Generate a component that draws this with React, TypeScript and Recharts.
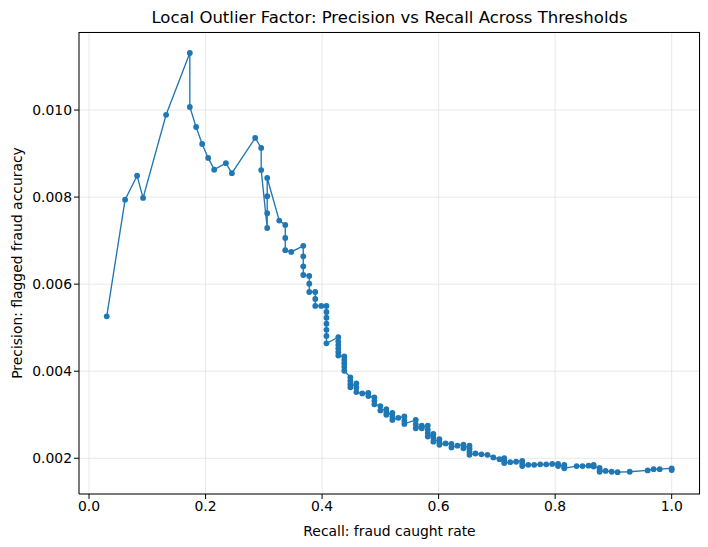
import { CartesianGrid, Line, LineChart, XAxis, YAxis } from 'recharts';

// recall / precision pairs, left to right
const recall = [
  0.0304, 0.0619, 0.0825, 0.0928, 0.1323, 0.173, 0.173, 0.1838, 0.1942, 0.2045,
  0.2148, 0.2349, 0.2452, 0.2852, 0.2955, 0.2955, 0.3058, 0.3058, 0.3058, 0.3058,
  0.3265, 0.3368, 0.3368, 0.3368, 0.3471, 0.3677, 0.3677, 0.3677, 0.3677, 0.378,
  0.378, 0.378, 0.3883, 0.3883, 0.3883, 0.3986, 0.4075, 0.4075, 0.4075, 0.4075,
  0.4075, 0.4075, 0.4075, 0.4278, 0.4278, 0.4278, 0.4278, 0.4278, 0.4278, 0.4381,
  0.4381, 0.4381, 0.4381, 0.4381, 0.4485, 0.4485, 0.4485, 0.4485, 0.4588, 0.4588,
  0.4588, 0.469, 0.4794, 0.4794, 0.4897, 0.4897, 0.4897, 0.5, 0.5, 0.5103,
  0.5103, 0.5103, 0.5206, 0.5206, 0.5206, 0.5309, 0.5412, 0.5412, 0.5412, 0.5608,
  0.5608, 0.5608, 0.5711, 0.5711, 0.5814, 0.5814, 0.5814, 0.5814, 0.591, 0.591,
  0.591, 0.6014, 0.6014, 0.6014, 0.612, 0.622, 0.622, 0.6323, 0.6426, 0.6426,
  0.653, 0.653, 0.653, 0.653, 0.6632, 0.6735, 0.6838, 0.694, 0.7045, 0.7126,
  0.7126, 0.7126, 0.7229, 0.733, 0.7435, 0.7435, 0.7435, 0.754, 0.764, 0.7744,
  0.7847, 0.795, 0.805, 0.805, 0.8156, 0.8156, 0.8156, 0.8368, 0.847, 0.8574,
  0.866, 0.866, 0.8763, 0.8763, 0.8763, 0.8866, 0.897, 0.9072, 0.928, 0.9588,
  0.969, 0.9794, 1.0, 1.0,
];

const precision = [
  0.00526, 0.00794, 0.00849, 0.00798, 0.00989, 0.01131, 0.01007, 0.00961, 0.00922, 0.0089,
  0.00863, 0.00878, 0.00855, 0.00936, 0.00913, 0.00862, 0.00729, 0.00763, 0.00802, 0.00844,
  0.00746, 0.00736, 0.00706, 0.00678, 0.00674, 0.00688, 0.00664, 0.00641, 0.00621, 0.00619,
  0.00601, 0.00582, 0.00582, 0.00566, 0.0055, 0.0055, 0.0055, 0.00536, 0.00523, 0.00509,
  0.00495, 0.00481, 0.00464, 0.00478, 0.00468, 0.0046, 0.00452, 0.00444, 0.00436, 0.00434,
  0.00426, 0.00418, 0.0041, 0.00401, 0.00386, 0.00378, 0.0037, 0.00363, 0.00372, 0.00362,
  0.00352, 0.00349, 0.0035, 0.00343, 0.0034, 0.00332, 0.00324, 0.0032, 0.0031, 0.00313,
  0.00306, 0.003, 0.00304, 0.00296, 0.00288, 0.00293, 0.00296, 0.00287, 0.00279, 0.00288,
  0.00278, 0.00269, 0.00275, 0.00269, 0.00275, 0.00266, 0.00258, 0.0025, 0.00256, 0.00247,
  0.00238, 0.00244, 0.00237, 0.00231, 0.00234, 0.00233, 0.00225, 0.00229, 0.00231, 0.00223,
  0.00229, 0.00222, 0.00215, 0.00208, 0.00211, 0.00209, 0.00208, 0.00202, 0.00198, 0.002,
  0.00194, 0.00189, 0.00191, 0.00192, 0.00194, 0.00188, 0.00182, 0.00185, 0.00185, 0.00186,
  0.00186, 0.00187, 0.00187, 0.00182, 0.00185, 0.00181, 0.00177, 0.00182, 0.00182, 0.00183,
  0.00185, 0.00181, 0.00178, 0.00174, 0.00169, 0.00171, 0.00169, 0.00168, 0.00169, 0.00172,
  0.00175, 0.00175, 0.00177, 0.00173,
];

const xTicks = [0, 0.2, 0.4, 0.6, 0.8, 1.0];
const yTicks = [0.002, 0.004, 0.006, 0.008, 0.01];
const xDomain: [number, number] = [-0.0172, 1.0486];
const yDomain: [number, number] = [0.001179, 0.011793];

const FONT = '"DejaVu Sans", sans-serif';
const BLUE = '#1f77b4';

export default function App() {
  const data = recall.map((r, i) => ({ recall: r, precision: precision[i] }));

  return (
    <div
      style={{
        position: 'absolute',
        left: 0,
        top: 0,
        width: 708,
        height: 547,
        background: '#fff',
        fontFamily: FONT,
      }}
    >
      <div
        style={{
          position: 'absolute',
          left: 79,
          width: 621,
          top: 8,
          lineHeight: '20px',
          textAlign: 'center',
          fontSize: 16.5,
          color: '#000',
        }}
      >
        Local Outlier Factor: Precision vs Recall Across Thresholds
      </div>
      <LineChart
        width={708}
        height={547}
        data={data}
        margin={{ top: 32, right: 8, bottom: 0, left: 0 }}
      >
        <CartesianGrid stroke="#e2e2e2" strokeWidth={0.8} />
        <XAxis
          dataKey="recall"
          type="number"
          domain={xDomain}
          allowDataOverflow
          ticks={xTicks}
          tickFormatter={(v: number) => v.toFixed(1)}
          height={53}
          tickSize={5}
          axisLine={{ stroke: '#000', strokeWidth: 1 }}
          tickLine={{ stroke: '#000' }}
          tick={{ fill: '#000', fontSize: 13.9, fontFamily: FONT }}
          label={{
            value: 'Recall: fraud caught rate',
            position: 'insideBottom',
            offset: 11,
            fill: '#000',
            fontSize: 13.9,
            fontFamily: FONT,
          }}
        />
        <YAxis
          type="number"
          domain={yDomain}
          allowDataOverflow
          ticks={yTicks}
          tickFormatter={(v: number) => v.toFixed(3)}
          width={79}
          tickSize={5}
          axisLine={{ stroke: '#000', strokeWidth: 1 }}
          tickLine={{ stroke: '#000' }}
          tick={{ fill: '#000', fontSize: 13.9, fontFamily: FONT }}
          label={{
            value: 'Precision: flagged fraud accuracy',
            angle: -90,
            position: 'insideLeft',
            offset: 17,
            fill: '#000',
            fontSize: 13.9,
            fontFamily: FONT,
            style: { textAnchor: 'middle' },
          }}
        />
        <Line
          dataKey="precision"
          stroke={BLUE}
          strokeWidth={1.35}
          dot={{ r: 2.9, fill: BLUE, stroke: 'none' }}
          activeDot={false}
          isAnimationActive={false}
        />
      </LineChart>
      {/* top and right spines of the plot box */}
      <div
        style={{
          position: 'absolute',
          left: 79,
          top: 32,
          width: 621,
          height: 462,
          borderTop: '1px solid #000',
          borderRight: '1px solid #000',
          boxSizing: 'border-box',
          pointerEvents: 'none',
        }}
      />
    </div>
  );
}
